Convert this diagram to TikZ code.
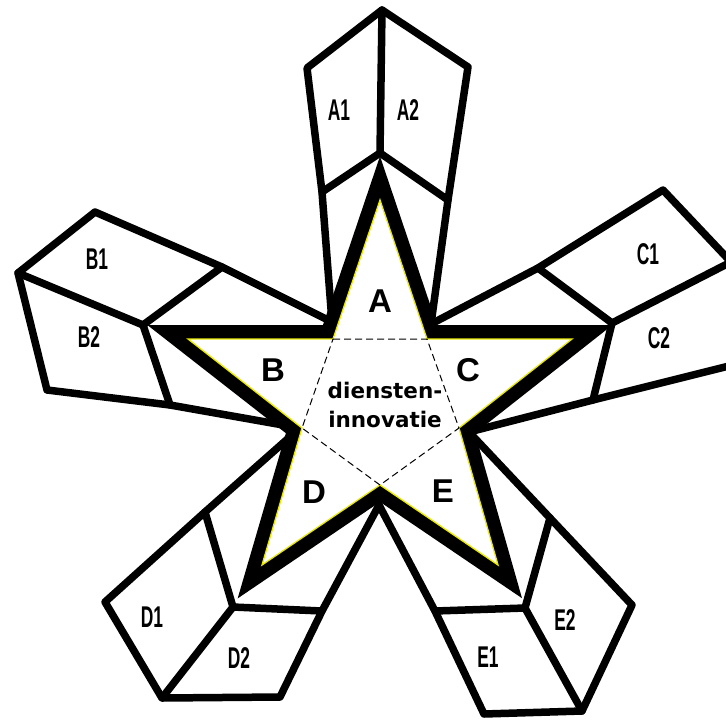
\documentclass[tikz,border=0pt]{standalone}
\usepackage{fontspec}
\newfontfamily\cfont{DejaVu Sans}
\newfontfamily\letfont{Liberation Sans}
\newfontfamily\labfont[FakeStretch=0.58]{Liberation Sans}
\definecolor{ylw}{RGB}{232,232,0}
\begin{document}
\begin{tikzpicture}[x=1pt,y=-1pt,
  petal/.style={line width=7.5pt, line join=round, line cap=round},
  pent/.style={line width=1pt, dash pattern=on 7pt off 4pt},
  biglet/.style={inner sep=0pt, font=\letfont\bfseries\fontsize{33}{36}\selectfont},
  plab/.style={inner sep=0pt, font=\labfont\bfseries\fontsize{30}{32}\selectfont},
  ctext/.style={inner sep=0pt, anchor=base, font=\cfont\bfseries\fontsize{21.5}{26}\selectfont}]
\useasboundingbox (0,0) rectangle (726,721);
\clip (0,0) rectangle (726,721);
% star vertices (inner yellow outline)
\coordinate (tA) at (380,200);
\coordinate (cAC) at (427,339);
\coordinate (tC) at (572,339);
\coordinate (cCE) at (459,428);
\coordinate (tE) at (498,565);
\coordinate (cDE) at (380,485);
\coordinate (tD) at (262,565);
\coordinate (cBD) at (302,428);
\coordinate (tB) at (188,339);
\coordinate (cAB) at (333,339);
% junctions of petal sides near the concave corners
\coordinate (JAB) at (332,322);
\coordinate (JAC) at (431,324);
\coordinate (JCE) at (469,432);
\coordinate (JDE) at (379,505);
\coordinate (JBD) at (300,428);
% petal A
\coordinate (Ac) at (380,153);
\coordinate (AmL) at (322,192);
\coordinate (AmR) at (448,200);
\coordinate (AcL) at (307,68);
\coordinate (AcR) at (468,67);
\coordinate (Aap) at (382,10);
% petal B
\coordinate (Bc) at (143,325);
\coordinate (BmU) at (222,267);
\coordinate (BmD) at (170,405);
\coordinate (BcU) at (95,212);
\coordinate (BcD) at (47,390);
\coordinate (Bap) at (18,273);
% petal C
\coordinate (Cc) at (612,323);
\coordinate (CmU) at (538,268);
\coordinate (CmD) at (593,400);
\coordinate (CcU) at (663,190);
\coordinate (CcD) at (745,362);
\coordinate (Cap) at (731,262);
% petal D
\coordinate (Dc) at (233,607);
\coordinate (DmL) at (205,512);
\coordinate (DmR) at (322,611);
\coordinate (DcL) at (105,602);
\coordinate (DcR) at (280,697);
\coordinate (Dap) at (162,698);
% petal E
\coordinate (Ec) at (525,608);
\coordinate (EmL) at (435,611);
\coordinate (EmR) at (550,518);
\coordinate (EcL) at (484,714);
\coordinate (EcR) at (632,605);
\coordinate (Eap) at (582,711);
% petals
\draw[petal] (JAB) -- (AmL) -- (AcL) -- (Aap) -- (AcR) -- (AmR) -- (JAC);
\draw[petal] (Aap) -- (Ac);
\draw[petal] (AmL) -- (Ac) -- (AmR);
\draw[petal] (JAB) -- (BmU) -- (BcU) -- (Bap) -- (BcD) -- (BmD) -- (JBD);
\draw[petal] (Bap) -- (Bc);
\draw[petal] (BmU) -- (Bc) -- (BmD);
\draw[petal] (JAC) -- (CmU) -- (CcU) -- (Cap) -- (CcD) -- (CmD) -- (JCE);
\draw[petal] (Cap) -- (Cc);
\draw[petal] (CmU) -- (Cc) -- (CmD);
\draw[petal] (JBD) -- (DmL) -- (DcL) -- (Dap) -- (DcR) -- (DmR) -- (JDE);
\draw[petal] (Dap) -- (Dc);
\draw[petal] (DmL) -- (Dc) -- (DmR);
\draw[petal] (JDE) -- (EmL) -- (EcL) -- (Eap) -- (EcR) -- (EmR) -- (JCE);
\draw[petal] (Eap) -- (Ec);
\draw[petal] (EmL) -- (Ec) -- (EmR);
% star
\path[preaction={draw=black, line width=28pt, miter limit=10},
      fill=white, draw=ylw, line width=1.3pt]
  (tA) -- (cAC) -- (tC) -- (cCE) -- (tE) -- (cDE) -- (tD) -- (cBD) -- (tB) -- (cAB) -- cycle;
% inner dashed pentagon
\draw[pent] (cAB) -- (cAC) -- (cCE) -- (cDE) -- (cBD) -- cycle;
% texts
\node[ctext] (t1) at (385,398) {diensten-};
\node[ctext] (t2) at (385,427) {innovatie};
\node[biglet] (LA) at (380,301) {A};
\node[biglet] (LB) at (273,370) {B};
\node[biglet] (LC) at (468,370) {C};
\node[biglet] (LD) at (314,492) {D};
\node[biglet] (LE) at (443,491) {E};
\node[plab] (A1) at (339,110) {A1};
\node[plab] (A2) at (408,110) {A2};
\node[plab] (B1) at (97,259) {B1};
\node[plab] (B2) at (89,337) {B2};
\node[plab] (C1) at (648,254) {C1};
\node[plab] (C2) at (659,338) {C2};
\node[plab] (D1) at (152,617) {D1};
\node[plab] (D2) at (239,658) {D2};
\node[plab] (E1) at (488,657) {E1};
\node[plab] (E2) at (565,620) {E2};
\end{tikzpicture}
\end{document}
